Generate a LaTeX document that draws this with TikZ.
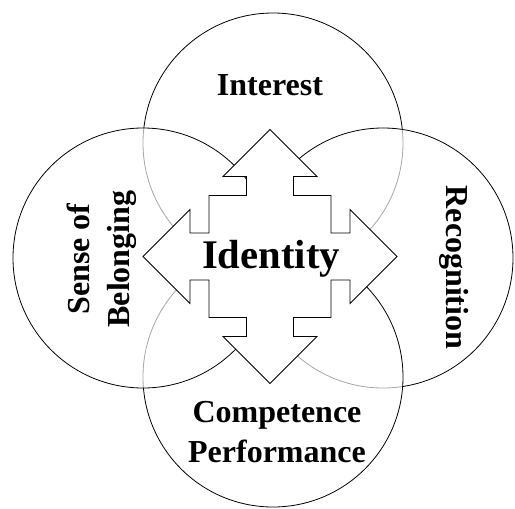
\documentclass[tikz,border=0pt]{standalone}
\usepackage{fontspec}
\setmainfont{Liberation Serif}

\begin{document}
\begin{tikzpicture}[x=0.75pt,y=-0.75pt,
  ring/.style={draw=black,line width=0.6pt,fill=white,fill opacity=0.65},
  lbl/.style={font=\bfseries\fontsize{24}{30}\selectfont,align=center,inner sep=0pt}]
\useasboundingbox (0,0) rectangle (515,508);
% the four circles, later ones lie over earlier ones
\draw[ring] (273,143) circle (97.5pt);
\draw[ring] (383,258) circle (97.5pt);
\draw[ring] (273,377) circle (97.5pt);
\draw[ring] (143,258) circle (97.5pt);
% the cross of arrows
\coordinate (core) at (270,256.5);
\draw[line width=0.6pt,fill=white,shift={(core)}]
  (0,-127)--(47,-80)--(23.5,-80)--(23.5,-61)--(61,-61)--(61,-23.5)--(80,-23.5)--(80,-47)
  --(127,0)--(80,47)--(80,23.5)--(61,23.5)--(61,61)--(23.5,61)--(23.5,80)--(47,80)
  --(0,127)--(-47,80)--(-23.5,80)--(-23.5,61)--(-61,61)--(-61,23.5)--(-80,23.5)--(-80,47)
  --(-127,0)--(-80,-47)--(-80,-23.5)--(-61,-23.5)--(-61,-61)--(-23.5,-61)--(-23.5,-80)--(-47,-80)
  --cycle;

\node[lbl,anchor=base] (interest) at (270,95) {Interest};
\node[lbl,anchor=base,font=\bfseries\fontsize{30.5}{36}\selectfont] (identity) at (271,268.3) {Identity};
\node[lbl,rotate=90] (belonging) at (102,259) {Sense of\\Belonging};
\node[lbl,rotate=-90] (recognition) at (454.5,267.5) {Recognition};
\node[lbl] (competence) at (277,432) {Competence\\Performance};
\end{tikzpicture}
\end{document}
